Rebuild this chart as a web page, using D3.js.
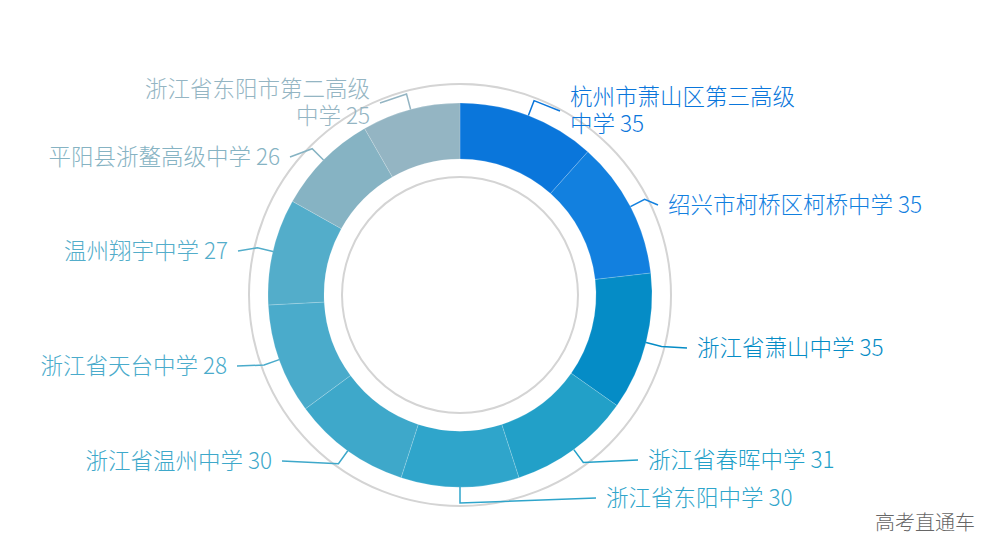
<!DOCTYPE html>
<html><head><meta charset="utf-8">
<script src="https://cdn.jsdelivr.net/npm/d3@7"></script>
<style>body{margin:0;background:#fff}</style></head>
<body><svg id="c" width="1000" height="558"></svg>
<script>
const names = ["杭州市萧山区第三高级\n中学","绍兴市柯桥区柯桥中学","浙江省萧山中学","浙江省春晖中学","浙江省东阳中学","浙江省温州中学","浙江省天台中学","温州翔宇中学","平阳县浙鳌高级中学","浙江省东阳市第二高级\n中学"];
const values = [35,35,35,31,30,30,28,27,26,25];
const colors = ["#0a76db","#1280df","#058cc6","#22a0c8","#2fa5cb","#3ea8ca","#4aabcb","#53adca","#86b3c3","#94b5c3"];
// label layout: [textX, textY, anchor]
const layout = [[570,111,"start"],[668,205,"start"],[697,348,"start"],[648,460,"start"],[606,498,"start"],[272,461,"end"],[227,366,"end"],[228,251,"end"],[280,157,"end"],[370,103,"end"]];
const cx=460, cy=295, rIn=136, rOut=192;
const svg=d3.select("#c");
const g=svg.append("g").attr("transform",`translate(${cx},${cy})`);
g.append("circle").attr("r",211).attr("fill","none").attr("stroke","#d4d4d4").attr("stroke-width",2);
g.append("circle").attr("r",118).attr("fill","none").attr("stroke","#d4d4d4").attr("stroke-width",2);
const pie=d3.pie().sort(null).value(d=>d)(values);
const arc=d3.arc().innerRadius(rIn).outerRadius(rOut);
g.selectAll("path.s").data(pie).join("path").attr("d",arc).attr("fill",(d,i)=>colors[i]).attr("stroke","rgba(255,255,255,0.25)").attr("stroke-width",0.7);
pie.forEach((d,i)=>{
  const a=(d.startAngle+d.endAngle)/2;
  const p=r=>[r*Math.sin(a),-r*Math.cos(a)];
  const [tx,ty,anc]=layout[i];
  const p0=p(rOut), p1=p(rOut+16);
  const endX=(anc==="start"?tx-10:tx+10)-cx, endY=ty-cy;
  g.append("polyline").attr("points",[p0,p1,[endX,endY]].map(q=>q.join(",")).join(" "))
   .attr("fill","none").attr("stroke",colors[i]).attr("stroke-width",1.5);
  const lines=(names[i]+" "+values[i]).split("\n");
  const t=svg.append("text").attr("x",tx).attr("text-anchor",anc).attr("fill",colors[i])
    .attr("font-family","'Noto Sans CJK SC','Noto Sans',sans-serif").attr("font-size",22.5).attr("font-weight",300);
  const y0=ty-(lines.length-1)*27/2;
  lines.forEach((l,k)=>t.append("tspan").attr("x",tx).attr("y",y0+k*27).attr("dy","0.35em").text(l));
});
svg.append("text").attr("x",975).attr("y",530).attr("text-anchor","end").attr("fill","#666")
  .attr("font-family","'Noto Sans CJK SC',sans-serif").attr("font-size",20).attr("font-weight",300).text("高考直通车");
</script></body></html>
